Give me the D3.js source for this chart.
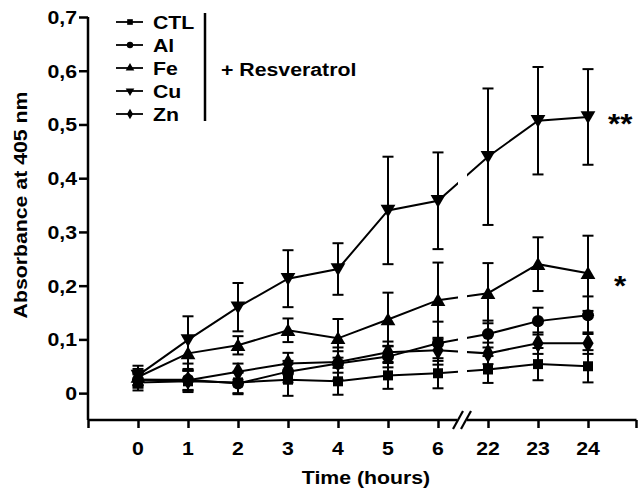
<!DOCTYPE html>
<html>
<head>
<meta charset="utf-8">
<script src="https://cdn.jsdelivr.net/npm/d3@7"></script>
<style>
  body { margin: 0; background: #fff; }
  text { font-family: "Liberation Sans", Arial, sans-serif; font-weight: bold; fill: #000; }
</style>
</head>
<body>
<svg width="638" height="492"></svg>
<script>
// time points (after 6 h the axis is broken)
var times = ["0", "1", "2", "3", "4", "5", "6", "22", "23", "24"];
var yTicks = [0, 0.1, 0.2, 0.3, 0.4, 0.5, 0.6, 0.7];

// mean absorbance
var ctl = [0.020, 0.022, 0.020, 0.025, 0.022, 0.033, 0.037, 0.044, 0.054, 0.050];
var al  = [0.025, 0.025, 0.018, 0.040, 0.055, 0.068, 0.093, 0.110, 0.134, 0.145];
var fe  = [0.030, 0.074, 0.089, 0.117, 0.102, 0.137, 0.173, 0.186, 0.240, 0.223];
var cu  = [0.033, 0.099, 0.160, 0.213, 0.231, 0.340, 0.358, 0.440, 0.507, 0.514];
var zn  = [0.025, 0.024, 0.040, 0.055, 0.058, 0.076, 0.080, 0.074, 0.093, 0.093];

// error (SD)
var ctlSd = [0.015, 0.020, 0.020, 0.030, 0.025, 0.025, 0.028, 0.025, 0.030, 0.030];
var alSd  = [0.015, 0.020, 0.020, 0.020, 0.030, 0.020, 0.040, 0.025, 0.025, 0.035];
var feSd  = [0.015, 0.032, 0.017, 0.022, 0.036, 0.050, 0.070, 0.056, 0.050, 0.070];
var cuSd  = [0.018, 0.044, 0.045, 0.053, 0.048, 0.100, 0.090, 0.127, 0.100, 0.089];
var znSd  = [0.012, 0.018, 0.015, 0.020, 0.020, 0.020, 0.020, 0.020, 0.020, 0.020];

var names = ["CTL", "Al", "Fe", "Cu", "Zn"];

var series = [
    {name: "CTL", values: ctl, sd: ctlSd, sym: d3.symbolSquare, size: 100, rot: 0},
    {name: "Al", values: al, sd: alSd, sym: d3.symbolCircle, size: 115, rot: 0},
    {name: "Fe", values: fe, sd: feSd, sym: d3.symbolTriangle, size: 95, rot: 0},
    {name: "Cu", values: cu, sd: cuSd, sym: d3.symbolTriangle, size: 95, rot: 180},
    {name: "Zn", values: zn, sd: znSd, sym: d3.symbolDiamond, size: 110, rot: 0}
];

var svg = d3.select("svg");
var SX = 1.12; // the original lettering is a bit wide

// bold label, stretched a little horizontally
function label(parent, x, y, s, anchor, size, rot) {
    var g = parent.append("g")
        .attr("transform", "translate(" + x + "," + y + ")" + (rot ? " rotate(-90)" : "") + " scale(" + SX + ",1)");
    g.append("text")
        .attr("text-anchor", anchor)
        .style("font-size", size + "px")
        .text(s);
    return g;
}

var x = d3.scaleLinear().domain([-1, 10]).range([88, 638]);
var y = d3.scaleLinear().domain([-0.05, 0.7]).range([420, 17]);

// y axis
var yAxis = svg.append("g").attr("transform", "translate(88,0)")
    .call(d3.axisLeft(y).tickValues(yTicks).tickSize(9).tickSizeOuter(0).tickFormat(""));
yAxis.select(".domain").attr("d", "M0," + y(-0.05) + "V" + y(0.7));
yAxis.selectAll("path, line").attr("stroke", "#000").attr("stroke-width", 2.5);
yTicks.forEach(function (t) {
    var s = t === 0 ? "0" : t.toFixed(1).replace(".", ",");
    label(svg, 77, y(t) + 7, s, "end", 19);
});

// x axis
var xAxis = svg.append("g").attr("transform", "translate(0," + y(-0.05) + ")")
    .call(d3.axisBottom(x).tickValues(d3.range(-1, 11)).tickSize(8).tickSizeOuter(0).tickFormat(""));
xAxis.select(".domain").attr("d", "M" + x(-1) + ",0H" + (x(10) - 1.5));
xAxis.selectAll("path, line").attr("stroke", "#000").attr("stroke-width", 2.5);
xAxis.selectAll(".tick").filter(function (d) { return d === 10; }).attr("transform", "translate(" + (x(10) - 1.5) + ",0)");
times.forEach(function (t, i) {
    label(svg, x(i), 455, t, "middle", 19);
});

// axis break mark
var bx = x(6.5) - 1, by = y(-0.05);
svg.append("rect").attr("x", bx - 5).attr("y", by - 3).attr("width", 10).attr("height", 6).attr("fill", "#fff");
[-4, 4].forEach(function (o) {
    svg.append("line")
        .attr("x1", bx + o - 5).attr("y1", by + 9)
        .attr("x2", bx + o + 5).attr("y2", by - 9)
        .attr("stroke", "#000").attr("stroke-width", 2.2);
});

label(svg, 366, 484, "Time (hours)", "middle", 19);
label(svg, 27, 205, "Absorbance at 405 nm", "middle", 19, true);

// gap in the data lines at the axis break
var clip = svg.append("clipPath").attr("id", "gap");
clip.append("rect").attr("x", 0).attr("y", 0).attr("width", x(6.5) - 5).attr("height", 492);
clip.append("rect").attr("x", x(6.5) + 4).attr("y", 0).attr("width", 638).attr("height", 492);

var line = d3.line()
    .x(function (d, i) { return x(i); })
    .y(function (d) { return y(d); });

var plot = svg.append("g");

series.forEach(function (s) {
    var eb = plot.append("g").attr("stroke", "#000").attr("stroke-width", 2);
    s.values.forEach(function (v, i) {
        var lo = y(v - s.sd[i]), hi = y(v + s.sd[i]);
        eb.append("line").attr("x1", x(i)).attr("x2", x(i)).attr("y1", lo).attr("y2", hi);
        eb.append("line").attr("x1", x(i) - 5.5).attr("x2", x(i) + 5.5).attr("y1", lo).attr("y2", lo);
        eb.append("line").attr("x1", x(i) - 5.5).attr("x2", x(i) + 5.5).attr("y1", hi).attr("y2", hi);
    });
});

series.forEach(function (s) {
    plot.append("path")
        .datum(s.values)
        .attr("d", line)
        .attr("clip-path", "url(#gap)")
        .attr("fill", "none")
        .attr("stroke", "#000")
        .attr("stroke-width", 2);
});

series.forEach(function (s) {
    var sym = d3.symbol().type(s.sym).size(s.size);
    plot.selectAll(null)
        .data(s.values)
        .enter().append("path")
        .attr("d", sym)
        .attr("transform", function (d, i) {
            var dy = s.sym === d3.symbolTriangle ? (s.rot ? -1.5 : 1.5) : 0;
            return "translate(" + x(i) + "," + (y(d) + dy) + ") rotate(" + s.rot + ")";
        })
        .attr("fill", "#000");
});

// significance marks
label(svg, x(9) + 20, y(cu[9]) + 16, "**", "start", 28);
label(svg, x(9) + 26, y(fe[9]) + 22, "*", "start", 28);

// legend
var leg = svg.append("g");
series.forEach(function (s, i) {
    var ly = 22 + i * 23;
    leg.append("line").attr("x1", 116).attr("x2", 143).attr("y1", ly).attr("y2", ly)
        .attr("stroke", "#000").attr("stroke-width", 1.8);
    leg.append("path")
        .attr("d", d3.symbol().type(s.sym).size(32))
        .attr("transform", "translate(130," + ly + ") rotate(" + s.rot + ")")
        .attr("fill", "#000");
    label(leg, 153, ly + 7, names[i], "start", 19);
});
leg.append("line").attr("x1", 205).attr("x2", 205).attr("y1", 13).attr("y2", 121)
    .attr("stroke", "#000").attr("stroke-width", 2.5);
label(leg, 221, 76, "+ Resveratrol", "start", 19);
</script>
</body>
</html>
